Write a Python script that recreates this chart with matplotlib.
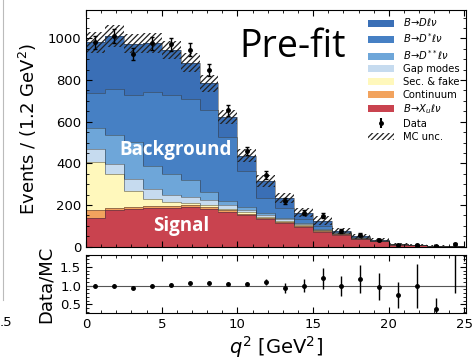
import numpy as np
import matplotlib
matplotlib.use("Agg")
import matplotlib.pyplot as plt
from matplotlib.patches import Patch
from matplotlib.lines import Line2D

# ---- data ----
edges = np.linspace(0, 25, 21)
signal_xu   = [136, 176, 180, 184, 188, 190, 182, 168, 152, 133, 113, 95, 72, 56, 37, 25, 10, 6, 3.5, 2]
continuum   = [40, 10, 9, 9, 8, 8, 7, 7, 6, 5, 5, 4, 3, 3, 2, 1, 0.5, 0.3, 0.2, 0.1]
sec_fake    = [232, 163, 80, 38, 18, 12, 10, 8, 7, 6, 5, 4, 3, 2, 1, 1, 0.5, 0.2, 0.1, 0.1]
gap_modes   = [59, 48, 55, 45, 35, 30, 25, 15, 12, 10, 8, 6, 4, 3, 2, 1, 0.5, 0.2, 0.1, 0.1]
d2star      = [101, 140, 180, 110, 100, 80, 40, 20, 12, 10, 8, 5, 4, 2, 1, 1, 0.3, 0.2, 0.1, 0.1]
dstar       = [168, 218, 224, 358, 379, 387, 392, 310, 173, 70, 47, 21, 14, 6, 3, 2, 1.0, 0.5, 0.5, 0.3]
dlnu        = [246, 256, 247, 232, 216, 176, 128, 95, 75, 81, 49, 28, 25, 5, 3, 2, 1.2, 0.6, 0.5, 0.3]
mc_unc      = [50, 52, 45, 48, 45, 45, 40, 35, 30, 30, 25, 22, 22, 15, 12, 8, 5, 3, 2, 2]
data        = [982, 1011, 926, 976, 972, 945, 847, 654, 459, 343, 219, 163, 149, 77, 58, 32, 10.5, 8, 1.85, 12]
data_err    = [31, 32, 30, 31, 31, 31, 29, 26, 21, 19, 15, 13, 12, 9, 8, 6, 3, 3, 1.4, 3.5]
ratio_err   = [0.04, 0.04, 0.04, 0.04, 0.04, 0.04, 0.05, 0.05, 0.06, 0.08, 0.14, 0.18, 0.28, 0.27, 0.37, 0.36, 0.35, 0.59, 0.31, 3.2]

labels = [r"$B\!\to\!X_u\ell\nu$", "Continuum", "Sec. & fake", "Gap modes",
          r"$B\!\to\!D^{**}\ell\nu$", r"$B\!\to\!D^{*}\ell\nu$", r"$B\!\to\!D\ell\nu$"]
colors = ["#c9434f", "#f2a35e", "#fff8bc", "#c6dbef", "#6ea6d9", "#4680c4", "#3a6fb6"]
components = [signal_xu, continuum, sec_fake, gap_modes, d2star, dstar, dlnu]

centers = 0.5 * (edges[:-1] + edges[1:])
cum = np.cumsum(np.array(components, dtype=float), axis=0)
mc_total = cum[-1]
unc = np.array(mc_unc, float)
ratio = np.array(data, float) / mc_total

W, H = 477, 360
fig = plt.figure(figsize=(W / 100, H / 100), dpi=100)
ax = fig.add_axes([86 / W, 1 - 246.7 / H, 380 / W, 236.7 / H])
axr = fig.add_axes([86 / W, 1 - 313 / H, 380 / W, 58 / H])

# stacked histogram (draw from top cumulative down)
for i in range(len(components) - 1, -1, -1):
    ax.stairs(cum[i], edges, fill=True, color=colors[i], lw=0)
for i in range(len(components)):
    ax.stairs(cum[i], edges, color="#333333", lw=0.6, alpha=0.55, baseline=None)

# MC uncertainty band
plt.rcParams["hatch.linewidth"] = 0.9
ax.bar(edges[:-1], 2 * unc, bottom=mc_total - unc, width=np.diff(edges), align="edge",
       fill=False, hatch="//////", edgecolor="#222222", lw=0)

# data
ax.errorbar(centers, data, yerr=data_err, fmt="o", color="black", ms=2.5,
            elinewidth=1.0, capsize=1.5, capthick=1.0)

ax.set_xlim(0, 25.1)
ax.set_ylim(0, 1136)
ax.set_ylabel(r"Events / (1.2 GeV$^2$)", fontsize=13, labelpad=6)
ax.set_xticklabels([])
ax.set_yticks([0, 200, 400, 600, 800, 1000])
ax.tick_params(labelsize=9.5)

for a in (ax, axr):
    a.minorticks_on()
    a.tick_params(which="both", direction="in", top=True, right=True)
    a.tick_params(which="major", length=4)
    a.tick_params(which="minor", length=2)
    a.set_xticks(np.arange(0, 26, 5))

handles = [Patch(facecolor=colors[i], edgecolor="none") for i in range(len(colors) - 1, -1, -1)]
lab = [labels[i] for i in range(len(labels) - 1, -1, -1)]
leg_err = ax.errorbar([], [], yerr=[], fmt="o", color="black", ms=2.5, capsize=1.5)
handles += [leg_err, Patch(facecolor="none", edgecolor="#222222", hatch="//////", lw=0)]
lab += ["Data", "MC unc."]
ax.legend(handles, lab, loc="upper right", fontsize=7.2, frameon=False,
          labelspacing=0.27, handlelength=2.6, handletextpad=0.9,
          borderaxespad=0.25, bbox_to_anchor=(1.0, 1.0))

ax.text(0.545, 0.845, "Pre-fit", transform=ax.transAxes, fontsize=27,
        family="Open Sans", ha="center", va="center")
ax.text(5.9, 465, "Background", color="white", fontsize=13.5, fontweight="bold",
        family="Open Sans", ha="center", va="center")
ax.text(6.3, 100, "Signal", color="white", fontsize=13.5, fontweight="bold",
        family="Open Sans", ha="center", va="center")

# ratio panel
axr.axhline(1.0, color="#555555", lw=0.8)
axr.errorbar(centers, ratio, yerr=ratio_err, fmt="o", color="black", ms=2.5,
             elinewidth=1.0, capsize=0, clip_on=True)
axr.set_xlim(0, 25.1)
axr.set_ylim(0.27, 1.82)
axr.set_yticks([0.5, 1.0, 1.5])
axr.set_yticklabels(["0.5", "1.0", "1.5"])
axr.tick_params(labelsize=9.5)
axr.set_ylabel("Data/MC", fontsize=13, labelpad=4)
axr.set_xlabel(r"$q^2$ [GeV$^2$]", fontsize=14, labelpad=2)
fig.align_ylabels([ax, axr])

# remnants of neighbouring figure at left edge
fig.add_artist(Line2D([3 / W, 3 / W], [1 - 300 / H, 1.0], color="#bbbbbb", lw=0.8))
fig.text(0 / W, 1 - 322 / H, ".5", fontsize=9.5, va="center", ha="left")

fig.savefig("out.png", dpi=100)
